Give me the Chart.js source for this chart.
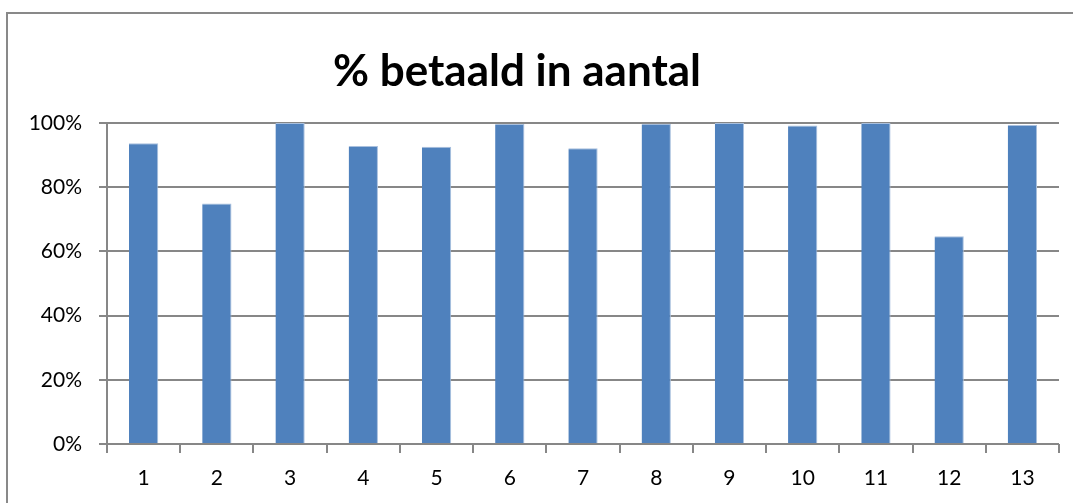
<!DOCTYPE html>
<html>
<head>
<meta charset="utf-8">
<script src="https://cdn.jsdelivr.net/npm/chart.js@4"></script>
<style>
  html, body { margin: 0; padding: 0; background: #fff; }
  #wrap { position: relative; width: 1073px; height: 503px; overflow: hidden; }
  #frame {
    position: absolute; left: 6px; top: 12px; width: 1200px; height: 600px;
    border-left: 2px solid #898989; border-top: 2px solid #898989;
  }
  #bars { position: absolute; left: 0; top: 0; }
</style>
</head>
<body>
<div id="wrap">
  <div id="frame"></div>
  <canvas id="bars" width="1073" height="503"></canvas>
</div>
<script>
const chartTitle = "% betaald in aantal";
const categories = ["1", "2", "3", "4", "5", "6", "7", "8", "9", "10", "11", "12", "13"];
const paidPercent = [93.7, 74.9, 100, 92.8, 92.6, 99.7, 92.1, 99.8, 100, 99.2, 100, 64.7, 99.4];
const yTicks = [0, 20, 40, 60, 80, 100];

const gridColor = "#878787";
const fontFamily = "Lato, 'Open Sans', sans-serif";

// title is drawn by hand so it can sit left of the plot centre like the original
const titlePlugin = {
  id: "titleAt",
  afterDraw: (chart) => {
    const ctx = chart.ctx;
    ctx.save();
    ctx.font = "bold 44px " + fontFamily;
    ctx.fillStyle = "#000";
    ctx.textAlign = "center";
    ctx.textBaseline = "alphabetic";
    ctx.fillText(chartTitle, 517, 86);
    ctx.restore();
  },
};

const ctx = document.getElementById("bars");
const barChart = new Chart(ctx, {
  type: "bar",
  data: {
    labels: categories,
    datasets: [
      {
        label: chartTitle,
        data: paidPercent,
        backgroundColor: "#4F81BD",
        borderColor: "#A9C0DE",
        borderWidth: { top: 1, right: 1, left: 0, bottom: 0 },
        barPercentage: 0.4,
        categoryPercentage: 1,
      },
    ],
  },
  options: {
    responsive: false,
    animation: false,
    layout: {
      padding: { left: 0, right: 14, top: 123, bottom: 0 },
    },
    scales: {
      x: {
        offset: true,
        grid: {
          offset: true,
          drawOnChartArea: false,
          drawTicks: true,
          tickLength: 9,
          color: gridColor,
          lineWidth: 2,
        },
        border: { display: false },
        ticks: {
          color: "#000",
          padding: 13,
          font: { family: fontFamily, size: 21 },
          maxRotation: 0,
        },
        afterFit: (scale) => {
          scale.height = 59;
        },
      },
      y: {
        min: 0,
        max: 100,
        afterBuildTicks: (scale) => {
          scale.ticks = yTicks.map((v) => ({ value: v }));
        },
        grid: {
          color: gridColor,
          lineWidth: 2,
          tickLength: 8,
        },
        border: { display: true, color: gridColor, width: 2 },
        ticks: {
          color: "#000",
          padding: 17,
          font: { family: fontFamily, size: 21 },
          callback: (v) => v + "%",
        },
        afterFit: (scale) => {
          scale.width = 107;
        },
      },
    },
    plugins: {
      legend: { display: false },
      title: { display: false },
      tooltip: { enabled: false },
    },
  },
  plugins: [titlePlugin],
});
</script>
</body>
</html>
